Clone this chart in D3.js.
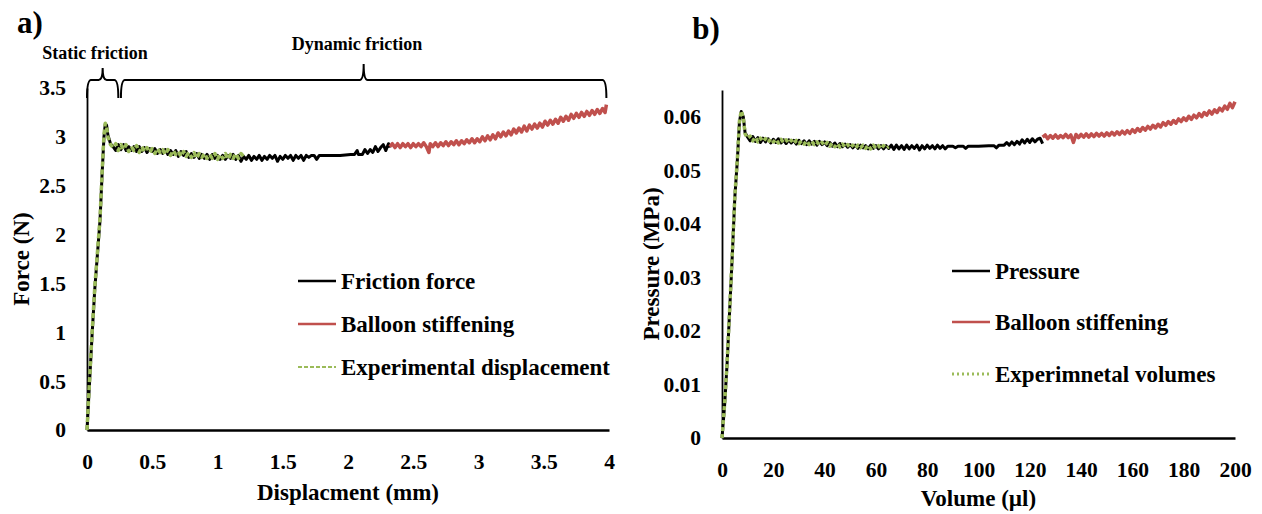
<!DOCTYPE html>
<html>
<head>
<meta charset="utf-8">
<style>
  body { margin: 0; background: #fff; }
  svg text { font-family: "Liberation Serif", "Times New Roman", Tinos, "DejaVu Serif", serif; font-weight: bold; fill: #000; }
</style>
</head>
<body>
<div id="chart"></div>
<script src="https://cdnjs.cloudflare.com/ajax/libs/d3/7.8.5/d3.min.js"></script>
<script>
  // ---- panel a: displacement (mm) vs force (N)
  const forceTicks = [0, 0.5, 1, 1.5, 2, 2.5, 3, 3.5];
  const dispTicks = [0, 0.5, 1, 1.5, 2, 2.5, 3, 3.5, 4];

  const frictionForce = [
    [0, 0], [0.02, 0.5], [0.04, 1.0], [0.06, 1.45], [0.08, 1.8], [0.1, 2.15], [0.115, 2.6], [0.13, 3.0],
    [0.14, 3.13], [0.15, 3.12], [0.16, 3.02], [0.18, 2.93], [0.2, 2.9], [0.22, 2.86], [0.24, 2.92],
    [0.26, 2.87], [0.28, 2.92], [0.3, 2.86], [0.32, 2.9], [0.34, 2.86], [0.36, 2.9], [0.38, 2.85],
    [0.4, 2.9], [0.42, 2.85], [0.44, 2.89], [0.46, 2.84], [0.48, 2.88], [0.5, 2.85], [0.52, 2.88],
    [0.54, 2.83], [0.56, 2.87], [0.58, 2.83], [0.6, 2.87], [0.62, 2.82], [0.64, 2.86], [0.66, 2.82],
    [0.68, 2.86], [0.7, 2.8], [0.72, 2.85], [0.74, 2.81], [0.76, 2.85], [0.78, 2.79], [0.8, 2.83],
    [0.82, 2.79], [0.84, 2.83], [0.86, 2.78], [0.88, 2.82], [0.9, 2.78], [0.92, 2.82], [0.94, 2.77],
    [0.96, 2.82], [0.98, 2.78], [1.0, 2.81], [1.02, 2.77], [1.04, 2.81], [1.06, 2.77], [1.08, 2.81],
    [1.1, 2.78], [1.12, 2.82], [1.14, 2.77], [1.16, 2.81], [1.18, 2.75], [1.2, 2.8], [1.22, 2.77],
    [1.24, 2.81], [1.26, 2.76], [1.28, 2.8], [1.3, 2.77], [1.32, 2.81], [1.34, 2.76], [1.36, 2.8],
    [1.38, 2.77], [1.4, 2.81], [1.42, 2.78], [1.44, 2.81], [1.46, 2.75], [1.48, 2.8], [1.5, 2.77],
    [1.52, 2.81], [1.54, 2.78], [1.56, 2.81], [1.58, 2.76], [1.6, 2.81], [1.62, 2.78], [1.64, 2.81],
    [1.66, 2.76], [1.68, 2.81], [1.7, 2.79], [1.72, 2.81], [1.74, 2.81], [1.76, 2.77], [1.78, 2.81],
    [1.82, 2.81], [1.86, 2.81], [1.9, 2.81], [1.94, 2.81], [1.98, 2.815], [2.02, 2.82], [2.05, 2.82],
    [2.07, 2.86], [2.08, 2.82], [2.11, 2.82], [2.13, 2.87], [2.15, 2.83], [2.17, 2.87], [2.19, 2.84],
    [2.21, 2.9], [2.23, 2.85], [2.25, 2.89], [2.27, 2.92], [2.29, 2.86], [2.31, 2.93], [2.32, 2.89]
  ];
  const stiffeningA = [
    [2.32, 2.9], [2.34, 2.93], [2.36, 2.89], [2.38, 2.93], [2.4, 2.89], [2.42, 2.93], [2.44, 2.9],
    [2.46, 2.93], [2.48, 2.89], [2.5, 2.93], [2.52, 2.9], [2.54, 2.93], [2.56, 2.9], [2.58, 2.94],
    [2.6, 2.9], [2.62, 2.84], [2.63, 2.93], [2.65, 2.9], [2.67, 2.94], [2.69, 2.9], [2.71, 2.94],
    [2.73, 2.91], [2.75, 2.95], [2.77, 2.91], [2.79, 2.95], [2.81, 2.92], [2.83, 2.96], [2.85, 2.92],
    [2.87, 2.96], [2.89, 2.93], [2.91, 2.97], [2.93, 2.94], [2.95, 2.98], [2.97, 2.94], [2.99, 2.98],
    [3.01, 2.95], [3.03, 3.0], [3.05, 2.96], [3.07, 3.01], [3.09, 2.97], [3.11, 3.02], [3.13, 2.98],
    [3.15, 3.04], [3.17, 3.0], [3.19, 3.05], [3.21, 3.01], [3.23, 3.06], [3.25, 3.02], [3.27, 3.08],
    [3.29, 3.04], [3.31, 3.09], [3.33, 3.05], [3.35, 3.11], [3.37, 3.06], [3.39, 3.12], [3.41, 3.08],
    [3.43, 3.13], [3.45, 3.09], [3.47, 3.14], [3.49, 3.1], [3.51, 3.16], [3.53, 3.12], [3.55, 3.17],
    [3.57, 3.13], [3.59, 3.18], [3.61, 3.14], [3.63, 3.2], [3.65, 3.16], [3.67, 3.21], [3.69, 3.17],
    [3.71, 3.23], [3.73, 3.19], [3.75, 3.24], [3.77, 3.2], [3.79, 3.25], [3.81, 3.21], [3.83, 3.26],
    [3.85, 3.22], [3.87, 3.27], [3.89, 3.23], [3.91, 3.28], [3.93, 3.24], [3.95, 3.29], [3.97, 3.25],
    [3.98, 3.33]
  ];
  const experimentalDisp = [
    [0, 0], [0.02, 0.52], [0.04, 1.02], [0.06, 1.47], [0.08, 1.82], [0.1, 2.17], [0.115, 2.62], [0.13, 3.02],
    [0.14, 3.14], [0.15, 3.11], [0.16, 3.0], [0.18, 2.92], [0.2, 2.89], [0.22, 2.93], [0.24, 2.86],
    [0.26, 2.92], [0.28, 2.87], [0.3, 2.92], [0.32, 2.85], [0.34, 2.9], [0.36, 2.86], [0.38, 2.91],
    [0.4, 2.84], [0.42, 2.9], [0.44, 2.85], [0.46, 2.89], [0.48, 2.84], [0.5, 2.88], [0.52, 2.83],
    [0.54, 2.88], [0.56, 2.84], [0.58, 2.87], [0.6, 2.82], [0.62, 2.87], [0.64, 2.81], [0.66, 2.86],
    [0.68, 2.82], [0.7, 2.85], [0.72, 2.8], [0.74, 2.85], [0.76, 2.8], [0.78, 2.84], [0.8, 2.79],
    [0.82, 2.84], [0.84, 2.78], [0.86, 2.83], [0.88, 2.79], [0.9, 2.83], [0.92, 2.78], [0.94, 2.82],
    [0.96, 2.78], [0.98, 2.83], [1.0, 2.77], [1.02, 2.82], [1.04, 2.78], [1.06, 2.83], [1.08, 2.77],
    [1.1, 2.82], [1.12, 2.78], [1.14, 2.83], [1.16, 2.78], [1.18, 2.83], [1.2, 2.8]
  ];
  const staticSpan = [0, 0.24];
  const dynamicSpan = [0.26, 3.98];

  // ---- panel b: volume (µl) vs pressure (MPa)
  const pressureTicks = [0, 0.01, 0.02, 0.03, 0.04, 0.05, 0.06];
  const volumeTicks = [0, 20, 40, 60, 80, 100, 120, 140, 160, 180, 200];

  const pressure = [
    [0, 0], [1, 0.006], [2, 0.014], [3, 0.024], [4, 0.034], [5, 0.045], [6, 0.052], [6.8, 0.059],
    [7.5, 0.061], [8.3, 0.06], [9, 0.057], [10, 0.0562], [11, 0.0555], [12, 0.0563], [13, 0.0554],
    [14, 0.0561], [15, 0.0552], [16, 0.056], [17, 0.0553], [18, 0.0559], [19, 0.0551], [20, 0.0558],
    [21, 0.0552], [22, 0.0559], [23, 0.0551], [24, 0.0557], [25, 0.055], [26, 0.0557], [27, 0.0551],
    [28, 0.0556], [29, 0.0549], [30, 0.0556], [31, 0.055], [32, 0.0555], [33, 0.0548], [34, 0.0555],
    [35, 0.0549], [36, 0.0554], [37, 0.0547], [38, 0.0554], [39, 0.0548], [40, 0.0553], [41, 0.0546],
    [42, 0.0552], [43, 0.0545], [44, 0.0551], [45, 0.0544], [46, 0.055], [47, 0.0544], [48, 0.0549],
    [49, 0.0543], [50, 0.0548], [51, 0.0542], [52, 0.0547], [53, 0.0541], [54, 0.0547], [55, 0.0542],
    [56, 0.0546], [57, 0.054], [58, 0.0547], [59, 0.0541], [60, 0.0546], [61, 0.054], [62, 0.0546],
    [63, 0.054], [64, 0.0546], [65, 0.0541], [66, 0.0547], [67, 0.0539], [68, 0.0547], [69, 0.054],
    [70, 0.0546], [71, 0.0539], [72, 0.0547], [73, 0.054], [74, 0.0546], [75, 0.0541], [76, 0.0547],
    [77, 0.0538], [78, 0.0546], [79, 0.054], [80, 0.0547], [81, 0.0541], [82, 0.0546], [83, 0.054],
    [84, 0.0547], [85, 0.0541], [86, 0.0546], [87, 0.054], [88, 0.0545], [90, 0.0545], [91, 0.0542],
    [92, 0.0545], [94, 0.0545], [95, 0.0541], [96, 0.0545], [100, 0.0545], [104, 0.0546],
    [106, 0.0546], [107, 0.0542], [108, 0.0547], [110, 0.0547], [111, 0.0552], [112, 0.0547],
    [113, 0.0553], [114, 0.0548], [115, 0.0554], [116, 0.0549], [117, 0.0557], [118, 0.0551],
    [119, 0.0558], [120, 0.0552], [121, 0.0559], [122, 0.0553], [123, 0.0558], [124, 0.056], [125, 0.055]
  ];
  const stiffeningB = [
    [125, 0.0562], [126, 0.0566], [127, 0.0559], [128, 0.0565], [129, 0.056], [130, 0.0566],
    [131, 0.056], [132, 0.0565], [133, 0.0561], [134, 0.0567], [135, 0.0561], [136, 0.0566],
    [137, 0.0552], [138, 0.0567], [139, 0.0561], [140, 0.0567], [141, 0.0562], [142, 0.0568],
    [143, 0.0562], [144, 0.0568], [145, 0.0563], [146, 0.0569], [147, 0.0564], [148, 0.0569],
    [149, 0.0564], [150, 0.057], [151, 0.0565], [152, 0.0571], [153, 0.0566], [154, 0.0572],
    [155, 0.0567], [156, 0.0573], [157, 0.0568], [158, 0.0574], [159, 0.0569], [160, 0.0576],
    [161, 0.0571], [162, 0.0578], [163, 0.0573], [164, 0.058], [165, 0.0575], [166, 0.0582],
    [167, 0.0577], [168, 0.0584], [169, 0.0579], [170, 0.0586], [171, 0.0581], [172, 0.0589],
    [173, 0.0584], [174, 0.0591], [175, 0.0586], [176, 0.0593], [177, 0.0588], [178, 0.0596],
    [179, 0.0591], [180, 0.0598], [181, 0.0593], [182, 0.0601], [183, 0.0595], [184, 0.0603],
    [185, 0.0598], [186, 0.0606], [187, 0.06], [188, 0.0608], [189, 0.0603], [190, 0.0611],
    [191, 0.0605], [192, 0.0613], [193, 0.0608], [194, 0.0616], [195, 0.0611], [196, 0.062],
    [197, 0.0614], [198, 0.0625], [199, 0.0617], [200, 0.0628]
  ];
  const experimentalVol = [
    [0, 0], [1, 0.0062], [2, 0.0142], [3, 0.0242], [4, 0.0342], [5, 0.0452], [6, 0.0522], [6.8, 0.0592],
    [7.5, 0.0611], [8.3, 0.0598], [9, 0.0568], [10, 0.056], [11, 0.0564], [12, 0.0555], [13, 0.0562],
    [14, 0.0553], [15, 0.056], [16, 0.0554], [17, 0.0559], [18, 0.0552], [19, 0.0559], [20, 0.0553],
    [21, 0.0558], [22, 0.0551], [23, 0.0558], [24, 0.0552], [25, 0.0557], [26, 0.0551], [27, 0.0556],
    [28, 0.055], [29, 0.0556], [30, 0.055], [31, 0.0555], [32, 0.0549], [33, 0.0555], [34, 0.0548],
    [35, 0.0554], [36, 0.0548], [37, 0.0553], [38, 0.0547], [39, 0.0552], [40, 0.0546], [41, 0.0552],
    [42, 0.0545], [43, 0.0551], [44, 0.0544], [45, 0.055], [46, 0.0543], [47, 0.0549], [48, 0.0543],
    [49, 0.0548], [50, 0.0542], [51, 0.0547], [52, 0.0541], [53, 0.0547], [54, 0.0542], [55, 0.0547],
    [56, 0.0541], [57, 0.0547], [58, 0.054], [59, 0.0547], [60, 0.0541], [61, 0.0546], [62, 0.054],
    [63, 0.0546], [64, 0.0541], [65, 0.0544]
  ];

  const BLACK = "#000000", RED = "#c0504d", GREEN = "#9bbb59";

  const svg = d3.select("#chart").append("svg")
    .attr("width", 1262)
    .attr("height", 514);

  const panels = [
    {
      label: "a)", labelPos: [30, 22],
      x: d3.scaleLinear().domain([0, 4]).range([87, 609]),
      y: d3.scaleLinear().domain([0, 3.5]).range([430, 88]),
      xTicks: dispTicks, yTicks: forceTicks, yFmt: d3.format(""),
      xTitle: "Displacment (mm)", xTitleY: 492,
      yTitle: "Force (N)", yTitleX: 21,
      series: [
        { data: frictionForce, color: BLACK, width: 3, dash: null, name: "Friction force" },
        { data: stiffeningA, color: RED, width: 3.5, dash: null, name: "Balloon stiffening" },
        { data: experimentalDisp, color: GREEN, width: 3.5, dash: "5,3", name: "Experimental displacement", legendDash: "4,2", legendWidth: 2 }
      ],
      legend: { x: 298, ys: [281, 324, 367] }
    },
    {
      label: "b)", labelPos: [706, 28],
      x: d3.scaleLinear().domain([0, 200]).range([722, 1235]),
      y: d3.scaleLinear().domain([0, 0.065]).range([438, 90]),
      xTicks: volumeTicks, yTicks: pressureTicks, yFmt: d => d === 0 ? "0" : d3.format(".2f")(d),
      xTitle: "Volume (µl)", xTitleY: 498,
      yTitle: "Pressure (MPa)", yTitleX: 651,
      series: [
        { data: pressure, color: BLACK, width: 3, dash: null, name: "Pressure" },
        { data: stiffeningB, color: RED, width: 3.5, dash: null, name: "Balloon stiffening" },
        { data: experimentalVol, color: GREEN, width: 3.5, dash: "4,3", name: "Experimnetal volumes", legendDash: "2,3", legendWidth: 3 }
      ],
      legend: { x: 952, ys: [271, 322, 374] }
    }
  ];

  panels.forEach(p => {
    const g = svg.append("g");
    const [x0, x1] = p.x.range();
    const [y0, y1] = p.y.range();

    // axes
    const xAxis = g.append("g")
      .attr("transform", "translate(0," + y0 + ")")
      .call(d3.axisBottom(p.x).tickValues(p.xTicks).tickSize(0).tickPadding(24).tickFormat(d3.format("")));
    const yAxis = g.append("g")
      .attr("transform", "translate(" + x0 + ",0)")
      .call(d3.axisLeft(p.y).tickValues(p.yTicks).tickSize(0).tickPadding(21).tickFormat(p.yFmt));
    xAxis.select(".domain").attr("stroke", "#000").attr("stroke-width", 2.5);
    yAxis.select(".domain").attr("stroke", "#000").attr("stroke-width", 1.8);
    g.selectAll(".tick text").attr("font-family", null).attr("font-size", null)
      .style("font-size", "21.5px");

    // titles
    g.append("text")
      .attr("x", (x0 + x1) / 2).attr("y", p.xTitleY)
      .attr("text-anchor", "middle").attr("dominant-baseline", "central")
      .style("font-size", "23px").text(p.xTitle);
    g.append("text")
      .attr("transform", "translate(" + p.yTitleX + "," + (y0 + y1) / 2 + ") rotate(-90)")
      .attr("text-anchor", "middle").attr("dominant-baseline", "central")
      .style("font-size", "23px").text(p.yTitle);
    g.append("text")
      .attr("x", p.labelPos[0]).attr("y", p.labelPos[1])
      .attr("text-anchor", "middle").attr("dominant-baseline", "central")
      .style("font-size", "31px").text(p.label);

    // series
    const line = d3.line().x(d => p.x(d[0])).y(d => p.y(d[1]));
    p.series.forEach(s => {
      g.append("path")
        .datum(s.data)
        .attr("d", line)
        .attr("fill", "none")
        .attr("stroke", s.color)
        .attr("stroke-width", s.width)
        .attr("stroke-linejoin", "round")
        .attr("stroke-dasharray", s.dash);
    });

    // legend
    p.series.forEach((s, i) => {
      const ly = p.legend.ys[i];
      g.append("line")
        .attr("x1", p.legend.x).attr("x2", p.legend.x + 38)
        .attr("y1", ly).attr("y2", ly)
        .attr("stroke", s.color)
        .attr("stroke-width", s.legendWidth || 2.5)
        .attr("stroke-dasharray", s.legendDash || null);
      g.append("text")
        .attr("x", p.legend.x + 43).attr("y", ly)
        .attr("dominant-baseline", "central")
        .style("font-size", "23px").text(s.name);
    });
  });

  // braces over panel a
  const pa = panels[0];
  const brace = (xa, xb, yBase, yBar, yTip) => {
    const xm = (xa + xb) / 2;
    const r = 4;
    return "M" + xa + "," + yBase +
      " Q" + xa + "," + yBar + " " + (xa + r) + "," + yBar +
      " L" + (xm - r) + "," + yBar +
      " Q" + xm + "," + yBar + " " + xm + "," + yTip +
      " Q" + xm + "," + yBar + " " + (xm + r) + "," + yBar +
      " L" + (xb - r) + "," + yBar +
      " Q" + xb + "," + yBar + " " + xb + "," + yBase;
  };
  const braceTop = pa.y(3.5) - 8;
  const braceG = svg.append("g");
  [
    { span: staticSpan, base: pa.y(3.5) + 10, tip: braceTop - 12, text: "Static friction", tx: 95, ty: 53 },
    { span: dynamicSpan, base: pa.y(3.5) + 10, tip: braceTop - 16, text: "Dynamic friction", tx: 357, ty: 44 }
  ].forEach(b => {
    braceG.append("path")
      .attr("d", brace(pa.x(b.span[0]), pa.x(b.span[1]), b.base, braceTop, b.tip))
      .attr("fill", "none").attr("stroke", "#000").attr("stroke-width", 2);
    braceG.append("text")
      .attr("x", b.tx).attr("y", b.ty)
      .attr("text-anchor", "middle").attr("dominant-baseline", "central")
      .style("font-size", "18px").text(b.text);
  });
</script>
</body>
</html>
